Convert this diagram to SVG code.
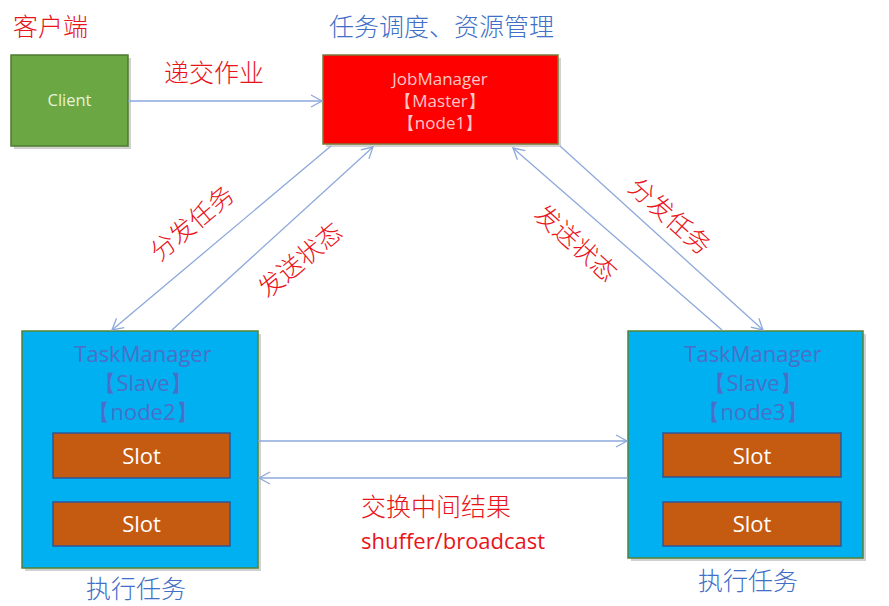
<svg xmlns="http://www.w3.org/2000/svg" width="889" height="606" viewBox="0 0 889 606">
<style>
.cn{font-family:"Noto Sans CJK SC","Noto Sans",sans-serif;font-weight:300;}
.lat{font-family:"Open Sans","Noto Sans","Liberation Sans",sans-serif;}
.red{fill:#E8141A;}
.blue{fill:#3F6FC6;}
.conn{stroke:#8DA9DB;stroke-width:1.3;fill:none;}
.shadow{fill:#000;opacity:0.18;}
.slot{fill:#C55A11;stroke:#2F5597;stroke-width:1.5;}
.tm{fill:#00B0F0;stroke:#548235;stroke-width:1.5;}
.tmt{fill:#4A6FC8;font-size:22px;text-anchor:middle;}
.slt{fill:#FFFFFF;font-size:22px;text-anchor:middle;}
</style>
<defs>
<marker id="arr" markerUnits="userSpaceOnUse" markerWidth="16" markerHeight="16" viewBox="-12 -8 14 16" refX="0" refY="0" orient="auto">
<path d="M-11,-6 L0,0 L-11,6" fill="none" stroke="#8DA9DB" stroke-width="1.3"/>
</marker>
</defs>
<rect width="889" height="606" fill="#FFFFFF"/>
<text class="cn red" x="13" y="36" font-size="25">客户端</text>
<text class="cn blue" x="329" y="36" font-size="25">任务调度、资源管理</text>
<g id="client">
<rect class="shadow" x="14" y="58" width="117" height="91"/>
<rect x="11" y="55" width="117" height="91" fill="#6BA843" stroke="#4E7A2E" stroke-width="1.5"/>
<text class="lat" x="69.5" y="106" font-size="16.5" fill="#E8F2DC" text-anchor="middle">Client</text>
</g>
<g id="jobmanager">
<rect class="shadow" x="326" y="58" width="235" height="89"/>
<rect x="323" y="55" width="235" height="89" fill="#FF0000" stroke="#7A7A3A" stroke-width="1.5"/>
<text class="lat" x="440" y="85" font-size="17" fill="#FFC6C6" text-anchor="middle">JobManager</text>
<text class="lat" x="440" y="107" font-size="17" fill="#FFC6C6" text-anchor="middle">【Master】</text>
<text class="lat" x="440" y="129" font-size="17" fill="#FFC6C6" text-anchor="middle">【node1】</text>
</g>
<g id="taskmanager2">
<rect class="shadow" x="25" y="334" width="236" height="237"/>
<rect class="tm" x="22" y="331" width="236" height="237"/>
<text class="lat tmt" x="143" y="362">TaskManager</text>
<text class="lat tmt" x="143" y="391">【Slave】</text>
<text class="lat tmt" x="143" y="420">【node2】</text>
<rect class="slot" x="53" y="433" width="177" height="45"/>
<text class="lat slt" x="141.5" y="464">Slot</text>
<rect class="slot" x="53" y="502" width="177" height="44"/>
<text class="lat slt" x="141.5" y="532">Slot</text>
</g>
<g id="taskmanager3">
<rect class="shadow" x="631" y="334" width="235" height="227"/>
<rect class="tm" x="628" y="331" width="235" height="227"/>
<text class="lat tmt" x="753" y="362">TaskManager</text>
<text class="lat tmt" x="753" y="391">【Slave】</text>
<text class="lat tmt" x="753" y="420">【node3】</text>
<rect class="slot" x="663" y="433" width="178" height="44"/>
<text class="lat slt" x="752" y="464">Slot</text>
<rect class="slot" x="663" y="502" width="178" height="44"/>
<text class="lat slt" x="752" y="532">Slot</text>
</g>
<text class="cn blue" x="86" y="598" font-size="25">执行任务</text>
<text class="cn blue" x="698" y="590" font-size="25">执行任务</text>
<g id="connectors">
<line class="conn" x1="128" y1="101" x2="322" y2="101" marker-end="url(#arr)"/>
<line class="conn" x1="331" y1="146" x2="112" y2="330" marker-end="url(#arr)"/>
<line class="conn" x1="172" y1="330" x2="373" y2="147" marker-end="url(#arr)"/>
<line class="conn" x1="722" y1="330" x2="513" y2="148" marker-end="url(#arr)"/>
<line class="conn" x1="560" y1="146" x2="763" y2="330" marker-end="url(#arr)"/>
<line class="conn" x1="258" y1="441" x2="627" y2="441" marker-end="url(#arr)"/>
<line class="conn" x1="628" y1="478" x2="259" y2="478" marker-end="url(#arr)"/>
</g>
<text class="cn red" x="164" y="82" font-size="25">递交作业</text>
<text class="cn red" x="192" y="232" font-size="25" text-anchor="middle" transform="rotate(-40 192 223)">分发任务</text>
<text class="cn red" x="300" y="269" font-size="25" text-anchor="middle" transform="rotate(-40 300 260)">发送状态</text>
<text class="cn red" x="670" y="225" font-size="25" text-anchor="middle" transform="rotate(42 670 216)">分发任务</text>
<text class="cn red" x="576" y="252" font-size="25" text-anchor="middle" transform="rotate(42 576 243)">发送状态</text>
<text class="cn red" x="361" y="516" font-size="25">交换中间结果</text>
<text class="lat red" x="361" y="549" font-size="22">shuffer/broadcast</text>
</svg>
